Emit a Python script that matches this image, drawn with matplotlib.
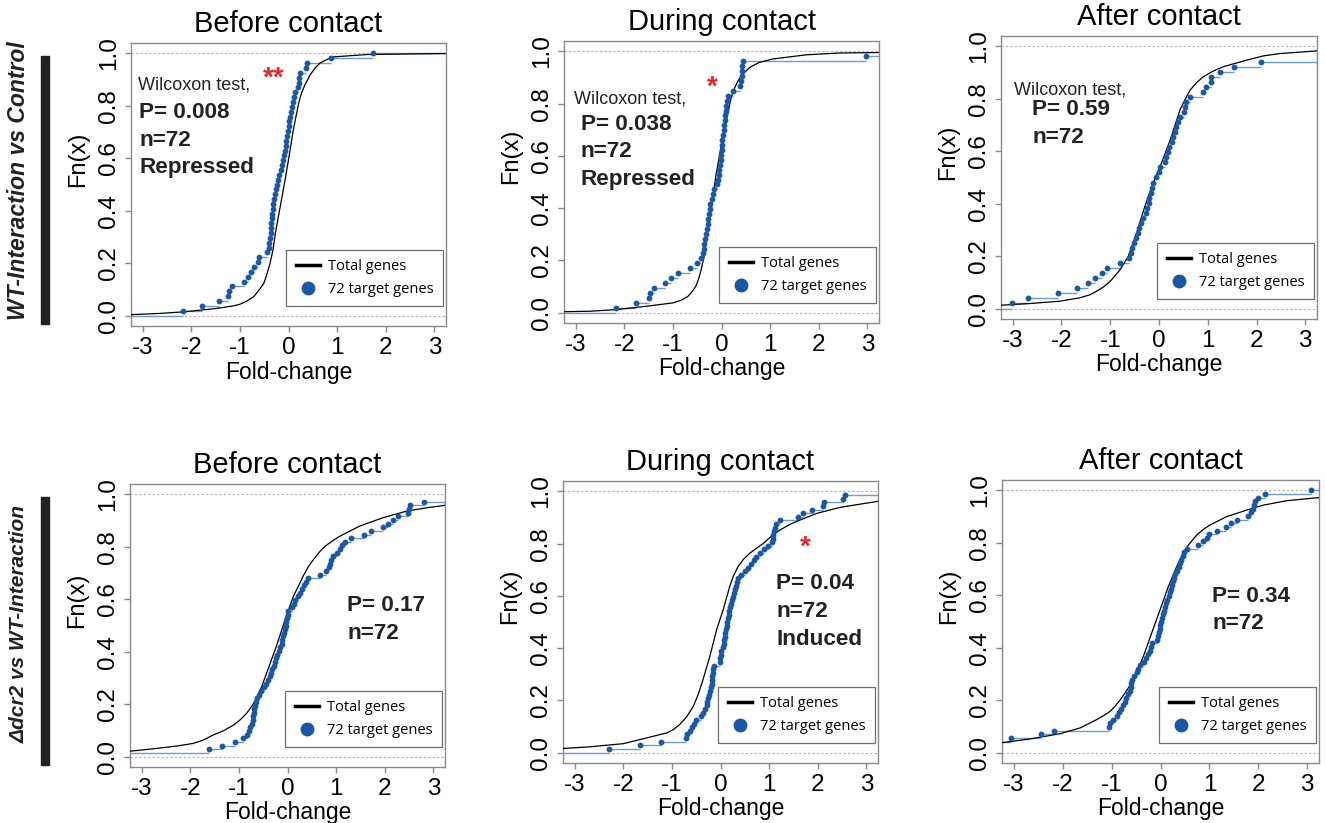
import numpy as np
import matplotlib
matplotlib.use('Agg')
import matplotlib.pyplot as plt
from matplotlib.lines import Line2D

plt.rcParams['font.family'] = ['Liberation Sans', 'DejaVu Sans']

# ---- data ----
# fold-changes of target genes (one value per gene), by panel
wt_before_targets = [
    -2.18, -1.77, -1.44, -1.24, -1.22, -1.17, -0.91, -0.84, -0.77, -0.70,
    -0.62, -0.60, -0.45, -0.41, -0.40, -0.385, -0.37, -0.36, -0.35, -0.34,
    -0.33, -0.32, -0.31, -0.30, -0.27, -0.25, -0.23, -0.21, -0.19, -0.16,
    -0.14, -0.12, -0.10, -0.08, -0.06, -0.05, -0.03, -0.02, 0.00, 0.02,
    0.035, 0.05, 0.07, 0.09, 0.11, 0.13, 0.20, 0.21, 0.22, 0.24,
    0.36, 0.38, 0.87, 1.73]
wt_during_targets = [
    -2.18, -1.76, -1.49, -1.48, -1.38, -1.17, -1.03, -0.90, -0.64, -0.50,
    -0.42, -0.38, -0.36, -0.35, -0.33, -0.315, -0.30, -0.285, -0.27, -0.26,
    -0.245, -0.23, -0.20, -0.175, -0.15, -0.09, -0.07, -0.06, -0.045, -0.035,
    -0.015, -0.005, 0.005, 0.01, 0.02, 0.035, 0.045, 0.06, 0.07, 0.08,
    0.095, 0.10, 0.12, 0.14, 0.23, 0.39, 0.41, 0.42, 0.425, 0.43,
    0.44, 2.97, 3.5]
wt_after_targets = [
    -3.01, -2.68, -2.08, -1.69, -1.46, -1.31, -1.16, -1.07, -0.80,
    -0.61, -0.58, -0.55, -0.51, -0.48, -0.44, -0.40, -0.37, -0.32, -0.27,
    -0.25, -0.21, -0.20, -0.17, -0.14, -0.12, -0.06, -0.01, 0.03, 0.12,
    0.14, 0.19, 0.21, 0.26, 0.29, 0.33, 0.35, 0.38, 0.43, 0.52,
    0.53, 0.55, 0.64,
    0.90, 0.97, 1.06, 1.07, 1.26, 1.54, 2.09, 3.4, 3.6, 3.9]
dcr2_before_targets = [
    -3.6, -1.61, -1.34, -1.08, -0.91, -0.84, -0.80, -0.77, -0.74, -0.72,
    -0.70, -0.69, -0.68, -0.67, -0.65, -0.62, -0.58, -0.54, -0.49, -0.44,
    -0.40, -0.37, -0.34, -0.31, -0.28, -0.26, -0.24, -0.21, -0.17, -0.145,
    -0.12, -0.105, -0.09, -0.075, -0.055, -0.04, -0.03, -0.015, 0.00, 0.02,
    0.10, 0.13, 0.16, 0.21, 0.25, 0.29, 0.33, 0.39, 0.42, 0.66,
    0.79, 0.86, 0.88, 0.90, 0.94, 1.02, 1.08, 1.13, 1.19, 1.30,
    1.57, 1.72, 1.96, 2.07, 2.18, 2.27, 2.48, 2.50, 2.52, 2.80,
    3.5, 3.8]
dcr2_during_targets = [
    -2.29, -1.65, -1.22, -0.70, -0.695, -0.62, -0.58, -0.55, -0.50, -0.40,
    -0.36, -0.31, -0.285, -0.27, -0.25, -0.23, -0.21, -0.20, -0.185, -0.175,
    -0.165, -0.16, -0.15, -0.14, -0.01, -0.005, 0.00, 0.02, 0.05, 0.065,
    0.075, 0.085, 0.095, 0.105, 0.125, 0.14, 0.155, 0.165, 0.18, 0.19,
    0.21, 0.23, 0.25, 0.27, 0.29, 0.31, 0.34, 0.37, 0.42, 0.50,
    0.57, 0.62, 0.69, 0.74, 0.81, 0.90, 0.98, 1.05, 1.08, 1.09,
    1.10, 1.115, 1.14, 1.22, 1.60, 1.69, 1.89, 2.10, 2.13, 2.52,
    2.57, 3.6]
dcr2_after_targets = [
    -3.8, -3.6, -3.4, -3.05, -2.44, -2.18, -1.05, -1.03, -0.98, -0.89,
    -0.84, -0.80, -0.76, -0.73, -0.70, -0.66, -0.63, -0.61, -0.60, -0.58,
    -0.54, -0.49, -0.45, -0.42, -0.33, -0.29, -0.26, -0.22, -0.20, -0.18,
    -0.075, -0.05, -0.03, -0.015, -0.005, 0.02, 0.04, 0.055, 0.075, 0.095,
    0.12, 0.14, 0.17, 0.20, 0.22, 0.245, 0.26, 0.27, 0.29, 0.33,
    0.37, 0.39, 0.42, 0.45, 0.49, 0.54, 0.76, 0.86, 0.96, 0.99,
    1.15, 1.34, 1.44, 1.56, 1.78, 1.86, 1.89, 1.91, 1.93, 1.99,
    2.14, 3.07]

# total genes ECDF, read as (fold-change, Fn) points along the curve
wt_before_total_x = [-3.3, -2.64, -2.16, -1.48, -1.13, -1.0, -0.86, -0.72, -0.62, -0.51,
                     -0.45, -0.38, -0.32, -0.27, -0.17, -0.07, 0.0, 0.10, 0.21, 0.27,
                     0.34, 0.45, 0.55, 0.65, 0.79, 0.93, 1.61, 3.3]
wt_before_total_fn = [0.003, 0.008, 0.014, 0.027, 0.037, 0.043, 0.055, 0.071, 0.094, 0.122,
                      0.154, 0.199, 0.25, 0.314, 0.416, 0.518, 0.594, 0.709, 0.811, 0.85,
                      0.881, 0.92, 0.945, 0.964, 0.977, 0.987, 0.996, 1.0]
wt_during_total_x = [-3.3, -2.71, -2.18, -1.55, -1.0, -0.83, -0.69, -0.59, -0.52, -0.47,
                     -0.42, -0.36, -0.315, -0.21, -0.11, -0.01, 0.10, 0.20, 0.27, 0.34,
                     0.44, 0.58, 0.78, 1.05, 1.74, 2.42, 3.3]
wt_during_total_fn = [0.003, 0.005, 0.011, 0.024, 0.037, 0.047, 0.062, 0.083, 0.104, 0.13,
                      0.162, 0.213, 0.276, 0.404, 0.531, 0.633, 0.735, 0.824, 0.86, 0.888,
                      0.913, 0.939, 0.958, 0.971, 0.987, 0.994, 0.996]
wt_after_total_x = [-3.3, -2.65, -2.03, -1.62, -1.41, -1.28, -1.14, -1.0, -0.90, -0.80,
                    -0.63, -0.46, -0.29, -0.12, 0.05, 0.23, 0.43, 0.53, 0.64, 0.77,
                    0.91, 1.11, 1.32, 1.80, 2.14, 2.48, 3.3]
wt_after_total_fn = [0.012, 0.019, 0.028, 0.041, 0.053, 0.066, 0.082, 0.104, 0.125, 0.148,
                     0.199, 0.288, 0.39, 0.478, 0.555, 0.643, 0.758, 0.796, 0.834, 0.862,
                     0.885, 0.906, 0.923, 0.948, 0.964, 0.973, 0.984]
dcr2_before_total_x = [-3.3, -2.69, -2.28, -1.94, -1.73, -1.53, -1.32, -1.11, -0.98, -0.84,
                       -0.74, -0.64, -0.53, -0.43, -0.33, -0.23, -0.05, 0.12, 0.22, 0.32,
                       0.42, 0.53, 0.66, 0.77, 0.94, 1.07, 1.28, 1.48, 1.96, 2.44,
                       2.85, 3.3]
dcr2_before_total_fn = [0.019, 0.031, 0.040, 0.050, 0.063, 0.082, 0.098, 0.12, 0.139, 0.165,
                        0.19, 0.222, 0.267, 0.318, 0.369, 0.42, 0.522, 0.611, 0.649, 0.688,
                        0.722, 0.751, 0.781, 0.802, 0.825, 0.84, 0.86, 0.879, 0.911, 0.936,
                        0.949, 0.960]
dcr2_during_total_x = [-3.3, -2.69, -2.0, -1.52, -1.11, -0.97, -0.84, -0.70, -0.56, -0.46,
                       -0.36, -0.29, -0.22, -0.15, -0.08, 0.055, 0.19, 0.26, 0.36, 0.47,
                       0.60, 0.74, 0.88, 1.05, 1.22, 1.43, 1.63, 1.98, 2.46, 3.3]
dcr2_during_total_fn = [0.015, 0.022, 0.034, 0.056, 0.075, 0.088, 0.107, 0.136, 0.177, 0.222,
                        0.279, 0.324, 0.368, 0.419, 0.47, 0.547, 0.636, 0.674, 0.712, 0.74,
                        0.763, 0.782, 0.801, 0.829, 0.852, 0.874, 0.89, 0.916, 0.939, 0.964]
dcr2_after_total_x = [-3.3, -2.66, -2.05, -1.64, -1.30, -1.16, -1.03, -0.93, -0.82, -0.69,
                      -0.55, -0.45, -0.35, -0.18, -0.01, 0.16, 0.33, 0.50, 0.61, 0.74,
                      0.88, 1.01, 1.35, 1.76, 2.10, 2.58, 3.3]
dcr2_after_total_fn = [0.036, 0.052, 0.072, 0.094, 0.126, 0.141, 0.157, 0.176, 0.202, 0.237,
                       0.278, 0.322, 0.367, 0.456, 0.544, 0.633, 0.709, 0.773, 0.801, 0.83,
                       0.852, 0.868, 0.90, 0.925, 0.944, 0.961, 0.974]

titles = ['Before contact', 'During contact', 'After contact'] * 2
targets = [wt_before_targets, wt_during_targets, wt_after_targets,
           dcr2_before_targets, dcr2_during_targets, dcr2_after_targets]
totals = [(wt_before_total_x, wt_before_total_fn), (wt_during_total_x, wt_during_total_fn),
          (wt_after_total_x, wt_after_total_fn), (dcr2_before_total_x, dcr2_before_total_fn),
          (dcr2_during_total_x, dcr2_during_total_fn), (dcr2_after_total_x, dcr2_after_total_fn)]

# annotation texts: (small header, bold lines, star)
annot_head = ['Wilcoxon test,', 'Wilcoxon test,', 'Wilcoxon test,', None, None, None]
annot_bold = [['P= 0.008', 'n=72', 'Repressed'], ['P= 0.038', 'n=72', 'Repressed'],
              ['P= 0.59', 'n=72'], ['P= 0.17', 'n=72'],
              ['P= 0.04', 'n=72', 'Induced'], ['P= 0.34', 'n=72']]
stars = ['**', '*', None, None, '*', None]

# layout (pixels: left, top, right, bottom) and text positions (data coords)
W, H = 1326, 823
boxes = [(131, 43, 446, 326), (564, 41, 879, 323), (1001, 36, 1317, 319),
         (130, 484, 445, 767), (563, 481, 878, 763), (1002, 480, 1319, 763)]
head_pos = [(-3.09, 0.878), (-3.03, 0.818), (-2.97, 0.834), None, None, None]
bold_pos = [(-3.07, 0.773), (-2.90, 0.722), (-2.60, 0.76),
            (1.23, 0.575), (1.15, 0.646), (1.06, 0.595)]
bold_step = [0.105, 0.106, 0.106, 0.107, 0.106, 0.104]
star_pos = [(-0.31, 0.905), (-0.19, 0.86), None, None, (1.75, 0.785), None]

DOT = '#1b57a7'
STEP = '#6b9ad6'
GREY = '#8a8a8a'

fig = plt.figure(figsize=(W / 100, H / 100), dpi=100)

for i in range(6):
    l, t, r, b = boxes[i]
    ax = fig.add_axes([l / W, 1 - b / H, (r - l) / W, (b - t) / H])
    ax.set_xlim(-3.24, 3.24)
    ax.set_ylim(-0.04, 1.04)

    ax.axhline(0, color='#b0b0b0', lw=0.8, ls=(0, (2, 2)), zorder=1)
    ax.axhline(1, color='#b0b0b0', lw=0.8, ls=(0, (2, 2)), zorder=1)

    tx, tf = totals[i]
    ax.plot(tx, tf, color='black', lw=0.9, zorder=3)

    xs = np.sort(np.array(targets[i]))
    n = len(xs)
    fn = np.arange(1, n + 1) / n
    left = np.concatenate([[-10], xs])
    right = np.concatenate([xs, [10]])
    levels = np.concatenate([[0], fn])
    ax.hlines(levels, left, right, color=STEP, lw=1.0, zorder=2)
    ax.plot(xs, fn, 'o', color=DOT, ms=4.2, mec='none', zorder=4)

    for s in ax.spines.values():
        s.set_color(GREY)
        s.set_linewidth(1.0)
    ax.tick_params(colors=GREY, labelcolor='black', length=4, width=1, labelsize=17.5, pad=4)
    ax.set_xticks([-3, -2, -1, 0, 1, 2, 3])
    ax.set_xticklabels(['-3', '-2', '-1', '0', '1', '2', '3'])
    ax.set_yticks([0, 0.2, 0.4, 0.6, 0.8, 1.0])
    ax.set_yticklabels(['0.0', '0.2', '0.4', '0.6', '0.8', '1.0'], rotation=90, va='center')
    ax.set_xlabel('Fold-change', fontsize=16.5, labelpad=1)
    ax.set_ylabel('Fn(x)', fontsize=17)
    ax.yaxis.set_label_coords(-0.133, 0.59)
    ax.set_title(titles[i], fontsize=21, pad=8)

    if annot_head[i]:
        ax.text(*head_pos[i], annot_head[i], fontsize=13, va='center', ha='left', color='#222222')
    bx, by = bold_pos[i]
    for j, line in enumerate(annot_bold[i]):
        ax.text(bx, by - j * bold_step[i], line, fontsize=16.2, fontweight='bold',
                va='center', ha='left', color='#222222')
    if stars[i]:
        ax.text(*star_pos[i], stars[i], fontsize=20, fontweight='bold', color='#e8262a',
                va='center', ha='center')

    handles = [Line2D([], [], color='black', lw=2.5),
               Line2D([], [], marker='o', ls='none', color=DOT, ms=10, mec='none')]
    leg = ax.legend(handles, ['Total genes', '72 target genes'], loc='lower right',
                    bbox_to_anchor=(0.99, 0.07), fancybox=False, framealpha=1,
                    edgecolor='#707070', handlelength=1.7, handletextpad=0.5,
                    borderpad=0.65, labelspacing=0.5, borderaxespad=0,
                    prop={'family': 'Open Sans', 'size': 10.5})
    leg.get_frame().set_linewidth(0.9)

# row labels and bars
fig.text(19 / W, 1 - 181 / H, 'WT-Interaction vs Control', rotation=90, fontsize=16.5,
         fontweight='bold', fontstyle='italic', ha='center', va='center', color='#222222')
fig.text(19 / W, 1 - 624 / H, '\u0394dcr2 vs WT-Interaction', rotation=90, fontsize=15,
         fontweight='bold', fontstyle='italic', ha='center', va='center', color='#222222')
fig.add_artist(plt.Rectangle((41 / W, 1 - 324 / H), 8 / W, 268 / H, color='#222222',
                             transform=fig.transFigure))
fig.add_artist(plt.Rectangle((41 / W, 1 - 765 / H), 8 / W, 268 / H, color='#222222',
                             transform=fig.transFigure))

fig.savefig('out.png', dpi=100)
